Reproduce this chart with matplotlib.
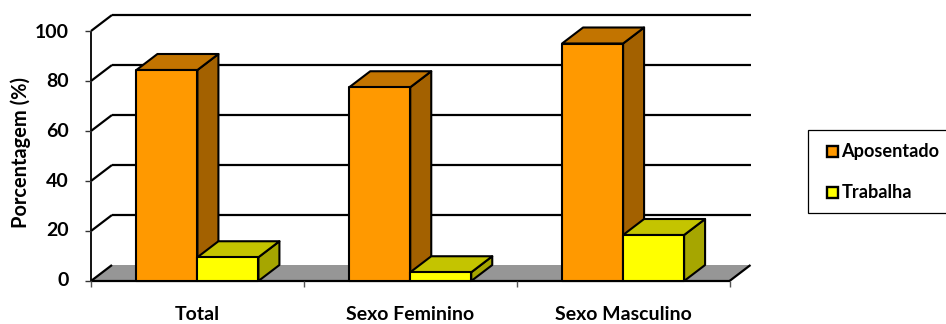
import matplotlib
matplotlib.use('Agg')
import matplotlib.pyplot as plt
from matplotlib.patches import Polygon, Rectangle

categories = ['Total', 'Sexo Feminino', 'Sexo Masculino']
aposentado = [84.4, 77.5, 95.0]
trabalha = [9.5, 3.5, 18.4]
y_ticks = [0, 20, 40, 60, 80, 100]

W, H = 946, 324
BLACK = '#000000'
LW = 1.5

plt.rcParams['font.family'] = ['Lato', 'DejaVu Sans']
plt.rcParams['font.weight'] = 'bold'

fig = plt.figure(figsize=(W / 100, H / 100), dpi=100)
# eixo com limites 0-3 / 0-100 posicionado em pixels
left, right, top, bottom = 91.0, 729.5, 31.0, 281.0
ax = fig.add_axes([left / W, 1 - bottom / H, (right - left) / W, (bottom - top) / H])
ax.set_xlim(0, 3)
ax.set_ylim(0, 100)
ax.axis('off')

# profundidade do efeito 3D em unidades de dados
dx = 21 / ((right - left) / 3)
dy = 16 / ((bottom - top) / 100)
bar_w = 61 / ((right - left) / 3)


def poly(points, color, z, edge=BLACK, lw=LW):
    ax.add_patch(Polygon(points, closed=True, facecolor=color, edgecolor=edge,
                         linewidth=lw, joinstyle='round', clip_on=False, zorder=z))


def line(xs, ys, z=2, lw=1.6, color=BLACK):
    ax.plot(xs, ys, color=color, lw=lw, clip_on=False, zorder=z, solid_capstyle='butt')


def bar3d(x0, h, front, top_c, side_c, z):
    x1 = x0 + bar_w
    poly([(x1, 0), (x1 + dx, dy), (x1 + dx, h + dy), (x1, h)], side_c, z)
    poly([(x0, h), (x0 + dx, h + dy), (x1 + dx, h + dy), (x1, h)], top_c, z)
    poly([(x0, 0), (x1, 0), (x1, h), (x0, h)], front, z + 0.1)


# piso
poly([(0, 0), (dx, dy), (3 + dx, dy), (3, 0)], '#969696', 1, edge='none', lw=0)

# grades na parede do fundo e na lateral
for t in y_ticks:
    line([0, dx], [t, t + dy], z=2)
    if t > 0:
        line([dx, 3 + dx], [t + dy, t + dy], z=2)
line([3, 3 + dx], [0, dy], z=2)

# eixos
line([0, 0], [0, 100], z=3, lw=1.3)
line([0, 3], [0, 0], z=3, lw=1.6)
for t in y_ticks:
    line([-6.5 / ((right - left) / 3), 0], [t, t], z=3, lw=1.0, color='#333333')
for i in range(4):
    line([i, i], [0, -2.2], z=3, lw=1.0, color='#555555')

# barras
for i, (a, b) in enumerate(zip(aposentado, trabalha)):
    c = i + 0.5
    bar3d(c - bar_w, a, '#FF9900', '#C27400', '#A36100', 5 + i)
    bar3d(c, b, '#FFFF00', '#C4C400', '#A6A600', 5.5 + i)

# rotulos
for i, name in enumerate(categories):
    fig.text((left + (i + 0.5) * (right - left) / 3) / W, 1 - 315 / H, name,
             ha='center', va='center', fontsize=14, color=BLACK)
tick_px = [280, 231, 181.7, 131.7, 81.7, 33]
for t, py in zip(y_ticks, tick_px):
    fig.text(68.5 / W, 1 - py / H, str(t), ha='right', va='center', fontsize=14, color=BLACK)
fig.text(20.5 / W, 1 - 153 / H, 'Porcentagem (%)', rotation=90, ha='center', va='center',
         fontsize=14.4, color=BLACK)

# legenda
fig.add_artist(Rectangle((807.5 / W, 1 - 213 / H), 150 / W, 83 / H, transform=fig.transFigure,
                         facecolor='white', edgecolor=BLACK, linewidth=0.9, clip_on=True))
for name, color, py in [('Aposentado', '#FF9900', 151.5), ('Trabalha', '#FFFF00', 192.5)]:
    fig.add_artist(Rectangle((826.5 / W, 1 - (py + 5.5) / H), 11 / W, 11 / H,
                             transform=fig.transFigure, facecolor=color,
                             edgecolor=BLACK, linewidth=1.7))
    fig.text(841.5 / W, 1 - py / H, name, ha='left', va='center', fontsize=13.1, color=BLACK)

fig.savefig('out.png', dpi=100)
